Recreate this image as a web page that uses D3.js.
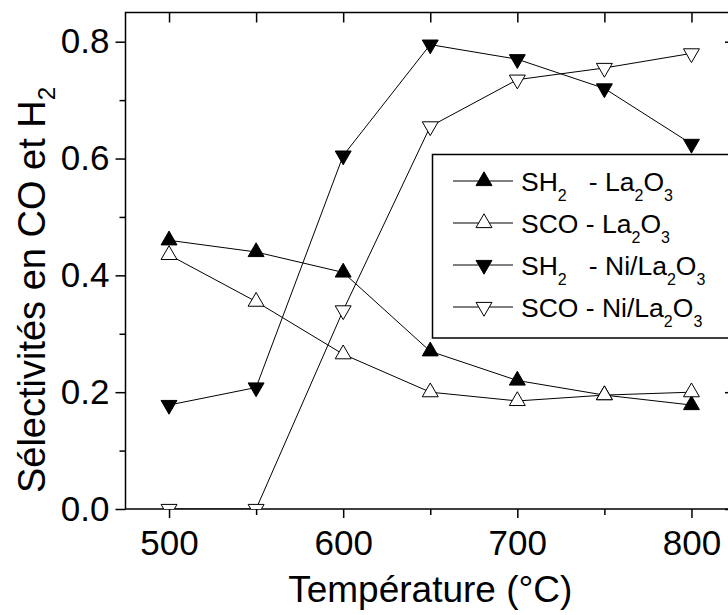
<!DOCTYPE html>
<html>
<head>
<meta charset="utf-8">
<script src="https://d3js.org/d3.v7.min.js"></script>
<style>
  body { margin: 0; background: #fff; }
  svg { display: block; font-family: "Liberation Sans", Arial, sans-serif; }
</style>
</head>
<body>
<svg id="chart" width="728" height="615"></svg>
<script>
// données
var temperatures = [500, 550, 600, 650, 700, 750, 800];
var sh2La = [0.46, 0.44, 0.405, 0.27, 0.22, 0.195, 0.178];
var scoLa = [0.435, 0.355, 0.265, 0.2, 0.185, 0.195, 0.2];
var sh2NiLa = [0.178, 0.208, 0.605, 0.795, 0.77, 0.72, 0.625];
var scoNiLa = [0.0, 0.0, 0.34, 0.655, 0.735, 0.755, 0.78];
var xTicks = [500, 600, 700, 800];
var yTicks = [0.0, 0.2, 0.4, 0.6, 0.8];

var series = [
  { values: sh2La, type: "up", fill: "#000", main: "SH", sub: "2", gap: "   - La" },
  { values: scoLa, type: "up", fill: "#fff", main: "SCO", sub: "", gap: " - La" },
  { values: sh2NiLa, type: "down", fill: "#000", main: "SH", sub: "2", gap: "   - Ni/La" },
  { values: scoNiLa, type: "down", fill: "#fff", main: "SCO", sub: "", gap: " - Ni/La" }
];

var svg = d3.select("#chart");
var pLeft = 125.5, pRight = 735, pTop = 12.5, pBottom = 509;

var x = d3.scaleLinear().domain([475, 825]).range([pLeft, pRight]);
var y = d3.scaleLinear().domain([0, 0.85]).range([pBottom, pTop]);

svg.append("clipPath").attr("id", "clip")
  .append("rect")
  .attr("x", pLeft).attr("y", pTop)
  .attr("width", pRight - pLeft).attr("height", pBottom - pTop);

// cadre
svg.append("rect")
  .attr("x", pLeft).attr("y", pTop)
  .attr("width", pRight - pLeft).attr("height", pBottom - pTop)
  .attr("fill", "none").attr("stroke", "#000").attr("stroke-width", 1.5);

// axe bas
svg.append("g").attr("transform", "translate(0," + pBottom + ")")
  .call(d3.axisBottom(x).tickValues(xTicks).tickSize(9).tickPadding(12).tickFormat(d3.format("d")));
svg.append("g").attr("transform", "translate(0," + pBottom + ")")
  .call(d3.axisBottom(x).tickValues([550, 650, 750]).tickSize(6).tickFormat(""));
// axe haut (graduations vers l'intérieur)
svg.append("g").attr("transform", "translate(0," + pTop + ")")
  .call(d3.axisBottom(x).tickValues(d3.range(500, 801, 50)).tickSize(10).tickFormat(""));
// axe gauche
svg.append("g").attr("transform", "translate(" + pLeft + ",0)")
  .call(d3.axisLeft(y).tickValues(yTicks).tickSize(10).tickPadding(6).tickFormat(d3.format(".1f")));
svg.append("g").attr("transform", "translate(" + pLeft + ",0)")
  .call(d3.axisLeft(y).tickValues([0.1, 0.3, 0.5, 0.7]).tickSize(6).tickFormat(""));
// axe droit (graduations vers l'intérieur)
svg.append("g").attr("transform", "translate(" + pRight + ",0)")
  .call(d3.axisLeft(y).tickValues(yTicks).tickSize(10).tickFormat(""));

svg.selectAll(".domain").remove();
svg.selectAll(".tick line").attr("stroke", "#000").attr("stroke-width", 1.5);
svg.selectAll(".tick text").attr("fill", "#000").style("font-size", "35px");

// titres des axes
svg.append("text")
  .attr("x", x(650)).attr("y", 602)
  .attr("text-anchor", "middle")
  .style("font-size", "37px")
  .text("Température (°C)");

var yt = svg.append("text")
  .attr("transform", "translate(45,290) rotate(-90)")
  .attr("text-anchor", "middle")
  .style("font-size", "38px");
yt.append("tspan").text("Sélectivités en CO et H");
yt.append("tspan").attr("dy", 10).style("font-size", "24px").text("2");

// symboles
var tri = d3.symbol().type(d3.symbolTriangle).size(110);

var line = d3.line()
  .x(function(d, i) { return x(temperatures[i]); })
  .y(function(d) { return y(d); });

var plot = svg.append("g").attr("clip-path", "url(#clip)");

series.forEach(function(s) {
  plot.append("path")
    .datum(s.values)
    .attr("d", line)
    .attr("fill", "none")
    .attr("stroke", "#000")
    .attr("stroke-width", 1);
});

series.forEach(function(s) {
  plot.selectAll(null)
    .data(s.values)
    .enter()
    .append("path")
    .attr("d", tri())
    .attr("transform", function(d, i) {
      return "translate(" + x(temperatures[i]) + "," + y(d) + ")" + (s.type === "down" ? " rotate(180)" : "");
    })
    .attr("fill", s.fill)
    .attr("stroke", "#000")
    .attr("stroke-width", 1);
});

// légende
var legend = svg.append("g");
legend.append("rect")
  .attr("x", 432.5).attr("y", 154.5)
  .attr("width", 330).attr("height", 183.5)
  .attr("fill", "#fff").attr("stroke", "#000").attr("stroke-width", 1.5);

series.forEach(function(s, i) {
  var ly = 181 + i * 42;
  legend.append("line")
    .attr("x1", 453).attr("x2", 513)
    .attr("y1", ly).attr("y2", ly)
    .attr("stroke", "#000").attr("stroke-width", 1);
  legend.append("path")
    .attr("d", tri())
    .attr("transform", "translate(484," + ly + ")" + (s.type === "down" ? " rotate(180)" : ""))
    .attr("fill", s.fill).attr("stroke", "#000").attr("stroke-width", 1);
  var t = legend.append("text")
    .attr("x", 521).attr("y", ly + 10)
    .style("font-size", "26.5px")
    .style("white-space", "pre");
  t.append("tspan").text(s.main);
  if (s.sub) t.append("tspan").attr("dy", 10).style("font-size", "16px").text(s.sub);
  t.append("tspan").attr("dy", s.sub ? -10 : 0).text(s.gap);
  t.append("tspan").attr("dy", 10).style("font-size", "16px").text("2");
  t.append("tspan").attr("dy", -10).text("O");
  t.append("tspan").attr("dy", 10).style("font-size", "16px").text("3");
});
</script>
</body>
</html>
